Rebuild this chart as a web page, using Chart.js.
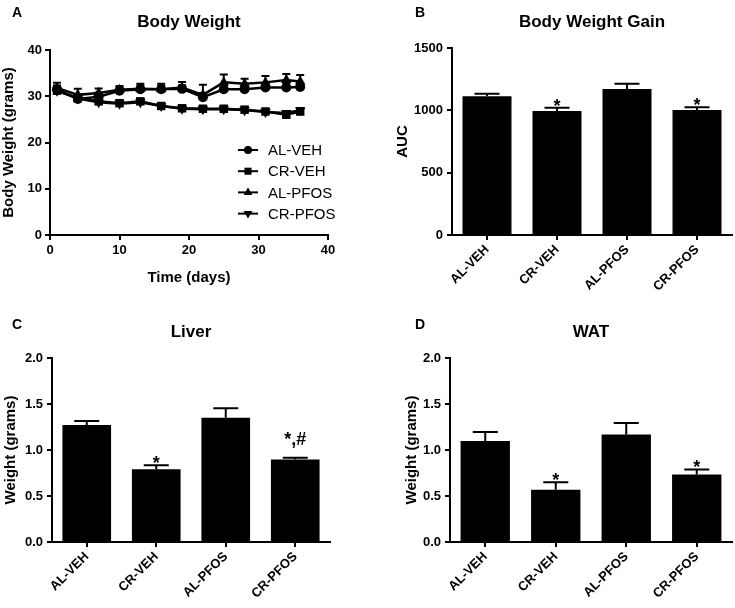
<!DOCTYPE html>
<html>
<head>
<meta charset="utf-8">
<script src="https://cdn.jsdelivr.net/npm/chart.js"></script>
<style>
  body { margin: 0; background: #fff; }
  .panel { position: absolute; }
</style>
</head>
<body>
<div class="panel" style="left:0;top:0;width:367px;height:300px"><canvas id="chartA"></canvas></div>
<div class="panel" style="left:368px;top:0;width:367px;height:300px"><canvas id="chartB"></canvas></div>
<div class="panel" style="left:0;top:300px;width:367px;height:308px"><canvas id="chartC"></canvas></div>
<div class="panel" style="left:368px;top:300px;width:367px;height:308px"><canvas id="chartD"></canvas></div>
<script>
// panel A - body weight over time
const days = [1, 4, 7, 10, 13, 16, 19, 22, 25, 28, 31, 34, 36];
const alVeh = [31.5, 29.4, 29.9, 31.2, 31.5, 31.5, 31.6, 29.8, 31.5, 31.5, 31.9, 31.9, 32.0];
const alVehSem = [0.8, 0.9, 0.9, 0.7, 0.8, 0.8, 0.8, 0.9, 0.8, 0.8, 0.8, 0.8, 0.8];
const crVeh = [31.2, 29.6, 28.9, 28.5, 28.9, 27.9, 27.4, 27.3, 27.3, 27.1, 26.7, 26.0, 26.7];
const crVehSem = [0.5, 0.5, 0.5, 0.5, 0.5, 0.5, 0.5, 0.5, 0.5, 0.5, 0.5, 0.5, 0.5];
const alPfos = [31.8, 30.3, 30.7, 31.4, 31.6, 31.5, 31.9, 30.3, 33.0, 32.7, 33.0, 33.5, 33.2];
const alPfosSem = [1.1, 1.3, 1.0, 0.8, 1.1, 1.2, 1.2, 2.2, 1.7, 1.1, 1.4, 1.3, 1.4];
const crPfos = [31.2, 29.5, 28.7, 28.4, 28.7, 27.9, 27.3, 27.2, 27.2, 27.0, 26.6, 26.4, 27.0];
const crPfosSem = [0.4, 0.4, 0.4, 0.4, 0.4, 0.4, 0.4, 0.4, 0.4, 0.4, 0.4, 0.4, 0.4];

// bar panels
const groups = ['AL-VEH', 'CR-VEH', 'AL-PFOS', 'CR-PFOS'];
const gainAuc = [1112, 995, 1171, 1003];
const gainSem = [21, 26, 43, 21];
const liverWt = [1.272, 0.79, 1.35, 0.896];
const liverSem = [0.043, 0.045, 0.105, 0.021];
const watWt = [1.097, 0.568, 1.168, 0.735];
const watSem = [0.099, 0.082, 0.125, 0.054];
const gainMarks = ['', '*', '', '*'];
const liverMarks = ['', '*', '', '*,#'];
const watMarks = ['', '*', '', '*'];

const FAMILY = "'Liberation Sans', Arial, sans-serif";
Chart.defaults.font.family = FAMILY;
Chart.defaults.color = '#000';
Chart.defaults.animation = false;

const errorBars = {
  id: 'errorBars',
  afterDatasetsDraw(chart, args, opts) {
    const ctx = chart.ctx;
    const yScale = chart.scales.y;
    ctx.save();
    ctx.strokeStyle = '#000';
    ctx.lineWidth = 2;
    chart.data.datasets.forEach((ds, i) => {
      if (!ds.sem) return;
      chart.getDatasetMeta(i).data.forEach((el, j) => {
        const raw = ds.data[j];
        const v = typeof raw === 'object' ? raw.y : raw;
        const top = yScale.getPixelForValue(v + ds.sem[j]);
        ctx.beginPath();
        ctx.moveTo(el.x, el.y);
        ctx.lineTo(el.x, top);
        ctx.moveTo(el.x - opts.cap / 2, top);
        ctx.lineTo(el.x + opts.cap / 2, top);
        ctx.stroke();
        const mark = ds.marks && ds.marks[j];
        if (mark) {
          ctx.fillStyle = '#000';
          ctx.font = 'bold 18px ' + FAMILY;
          ctx.textAlign = 'center';
          ctx.textBaseline = 'alphabetic';
          ctx.fillText(mark, el.x, mark.length > 1 ? top - 13 : top + 4);
        }
      });
    });
    ctx.restore();
  }
};

const panelText = {
  id: 'panelText',
  afterDraw(chart, args, opts) {
    const ctx = chart.ctx;
    const a = chart.chartArea;
    ctx.save();
    ctx.fillStyle = '#000';
    ctx.textBaseline = 'alphabetic';
    ctx.font = 'bold 14px ' + FAMILY;
    ctx.textAlign = 'left';
    ctx.fillText(opts.letter, opts.letterX, opts.letterY);
    ctx.font = 'bold 17px ' + FAMILY;
    ctx.textAlign = 'center';
    ctx.fillText(opts.title, (a.left + a.right) / 2, opts.titleY);
    ctx.restore();
  }
};

function drawMarker(ctx, style, x, y, r, rot) {
  ctx.beginPath();
  if (style === 'circle') {
    ctx.arc(x, y, r, 0, Math.PI * 2);
  } else if (style === 'rect') {
    const s = r * Math.SQRT1_2;
    ctx.rect(x - s, y - s, 2 * s, 2 * s);
  } else {
    const d = rot ? -1 : 1;
    ctx.moveTo(x, y - d * r);
    ctx.lineTo(x + r * 0.87, y + d * r * 0.5);
    ctx.lineTo(x - r * 0.87, y + d * r * 0.5);
    ctx.closePath();
  }
  ctx.fill();
}

const lineLegend = {
  id: 'lineLegend',
  afterDraw(chart) {
    const ctx = chart.ctx;
    ctx.save();
    ctx.fillStyle = '#000';
    ctx.strokeStyle = '#000';
    ctx.lineWidth = 2;
    ctx.font = '15px ' + FAMILY;
    ctx.textBaseline = 'middle';
    ctx.textAlign = 'left';
    chart.data.datasets.forEach((ds, i) => {
      const y = 150 + i * 21.2;
      ctx.beginPath();
      ctx.moveTo(238, y);
      ctx.lineTo(258, y);
      ctx.stroke();
      drawMarker(ctx, ds.pointStyle, 248, y, ds.pointRadius - 1, ds.pointRotation);
      ctx.fillText(ds.label, 268, y + 1);
    });
    ctx.restore();
  }
};

const axisBorder = { color: '#000', width: 2 };
const axisGrid = { drawOnChartArea: false, drawTicks: true, tickLength: 5, color: '#000', lineWidth: 2, offset: false };

function series(label, values, sem, style, radius, rot) {
  return {
    label: label,
    data: values.map((v, i) => ({ x: days[i], y: v })),
    sem: sem,
    borderColor: '#000',
    backgroundColor: '#000',
    borderWidth: 2.5,
    pointStyle: style,
    pointRadius: radius,
    pointRotation: rot,
    pointBorderWidth: 0,
    pointHoverRadius: radius
  };
}

new Chart(document.getElementById('chartA'), {
  type: 'line',
  data: {
    datasets: [
      series('AL-VEH', alVeh, alVehSem, 'circle', 5, 0),
      series('CR-VEH', crVeh, crVehSem, 'rect', 6, 0),
      series('AL-PFOS', alPfos, alPfosSem, 'triangle', 6, 0),
      series('CR-PFOS', crPfos, crPfosSem, 'triangle', 6, 180)
    ]
  },
  options: {
    responsive: true,
    maintainAspectRatio: false,
    layout: { padding: { top: 50, left: 0, right: 39, bottom: 13 } },
    plugins: {
      legend: { display: false },
      tooltip: { enabled: false },
      errorBars: { cap: 8 },
      panelText: { letter: 'A', letterX: 12, letterY: 17, title: 'Body Weight', titleY: 27 }
    },
    scales: {
      x: {
        type: 'linear', min: 0, max: 40,
        border: axisBorder, grid: axisGrid,
        ticks: { stepSize: 10, font: { size: 13, weight: 'bold' }, padding: 3, color: '#000' },
        title: { display: true, text: 'Time (days)', font: { size: 15, weight: 'bold' }, padding: 0, color: '#000' },
        afterFit: s => { s.height = 52; }
      },
      y: {
        min: 0, max: 40,
        border: axisBorder, grid: axisGrid,
        ticks: { stepSize: 10, font: { size: 13, weight: 'bold' }, padding: 3, color: '#000' },
        title: { display: true, text: 'Body Weight (grams)', font: { size: 15, weight: 'bold' }, padding: 0, color: '#000' },
        afterFit: s => { s.width = 50; }
      }
    }
  },
  plugins: [errorBars, panelText, lineLegend]
});

function barChart(id, values, sem, marks, yMax, step, yTitle, letter, title, pad, yWidth, titleY, letterX, letterY, fmt) {
  return new Chart(document.getElementById(id), {
    type: 'bar',
    data: {
      labels: groups,
      datasets: [{
        data: values,
        sem: sem,
        marks: marks,
        backgroundColor: '#000',
        borderWidth: 0,
        categoryPercentage: 1,
        barPercentage: 0.7
      }]
    },
    options: {
      responsive: true,
      maintainAspectRatio: false,
      layout: { padding: pad },
      plugins: {
        legend: { display: false },
        tooltip: { enabled: false },
        errorBars: { cap: 25 },
        panelText: { letter: letter, letterX: letterX, letterY: letterY, title: title, titleY: titleY }
      },
      scales: {
        x: {
          border: axisBorder, grid: axisGrid,
          ticks: { font: { size: 13, weight: 'bold' }, padding: 2, minRotation: 45, maxRotation: 45, color: '#000' },
          afterFit: s => { s.height = 60; }
        },
        y: {
          min: 0, max: yMax,
          border: axisBorder, grid: axisGrid,
          ticks: { stepSize: step, font: { size: 13, weight: 'bold' }, padding: 4, color: '#000', callback: fmt },
          title: { display: true, text: yTitle, font: { size: 15, weight: 'bold' }, padding: 0, color: '#000' },
          afterFit: s => { s.width = yWidth; }
        }
      }
    },
    plugins: [errorBars, panelText]
  });
}

const oneDecimal = v => v.toFixed(1);

barChart('chartB', gainAuc, gainSem, gainMarks, 1500, 500, 'AUC', 'B', 'Body Weight Gain',
  { top: 48, left: 26, right: 3, bottom: 5 }, 58, 27, 47, 17, v => v);
barChart('chartC', liverWt, liverSem, liverMarks, 2, 0.5, 'Weight (grams)', 'C', 'Liver',
  { top: 58, left: 2, right: 37, bottom: 6 }, 50, 37, 12, 29, oneDecimal);
barChart('chartD', watWt, watSem, watMarks, 2, 0.5, 'Weight (grams)', 'D', 'WAT',
  { top: 58, left: 35, right: 3, bottom: 6 }, 47, 37, 47, 29, oneDecimal);
</script>
</body>
</html>
